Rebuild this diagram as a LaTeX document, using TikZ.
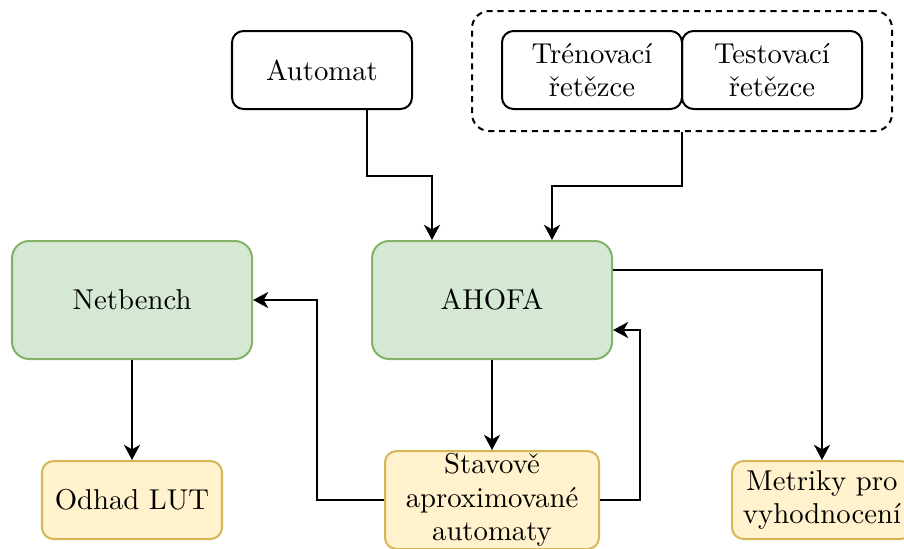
\documentclass[tikz,border=0pt]{standalone}
\usepackage{fontspec}
\usetikzlibrary{arrows.meta}
\newdimen\pxu \pxu=0.348pt
\definecolor{gfill}{HTML}{D5E8D4}
\definecolor{gline}{HTML}{82B366}
\definecolor{yfill}{HTML}{FFF2CC}
\definecolor{yline}{HTML}{D6B656}
\begin{document}
\begin{tikzpicture}[x=0.348pt,y=-0.348pt,
  box/.style={draw, line width=0.7pt, rounded corners=4pt, align=center, inner sep=0pt,
    font=\fontsize{10}{11.6}\selectfont, minimum width=180\pxu, minimum height=78\pxu},
  green/.style={fill=gfill, draw=gline, rounded corners=6pt, minimum width=240\pxu, minimum height=118\pxu},
  yellow/.style={fill=yfill, draw=yline},
  arr/.style={draw, line width=0.7pt, -{Stealth[length=5.3pt,width=5.6pt,inset=1.6pt]}},
]
\useasboundingbox (0,0) rectangle (904,548);
\node[draw, line width=0.7pt, dash pattern=on 2.1pt off 1.7pt, rounded corners=6pt,
  minimum width=420\pxu, minimum height=120\pxu, inner sep=0pt] (grp) at (682,71) {};
\node[box] (aut) at (322,70) {Automat};
\node[box] (tren) at (592,70) {Trénovací\\řetězce};
\node[box] (test) at (772,70) {Testovací\\řetězce};
\node[box, green] (ahofa) at (492,300) {AHOFA};
\node[box, green] (net) at (132,300) {Netbench};
\node[box, yellow] (odh) at (132,500) {Odhad LUT};
\node[box, yellow, minimum width=214\pxu, minimum height=98\pxu] (stav) at (492,500) {Stavově\\aproximované\\automaty};
\node[box, yellow] (met) at (822,500) {Metriky pro\\vyhodnocení};

\draw[arr] ([xshift=45\pxu]aut.south) -- ++(0,66) -| ([xshift=-60\pxu]ahofa.north);
\draw[arr] (grp.south) -- ++(0,54) -| ([xshift=60\pxu]ahofa.north);
\draw[arr] ([yshift=30\pxu]ahofa.east) -| (met.north);
\draw[arr] (ahofa.south) -- (stav.north);
\draw[arr] (stav.east) -- ++(40,0) |- ([yshift=-30\pxu]ahofa.east);
\draw[arr] (stav.west) -- ++(-67,0) |- (net.east);
\draw[arr] (net.south) -- (odh.north);
\end{tikzpicture}
\end{document}
